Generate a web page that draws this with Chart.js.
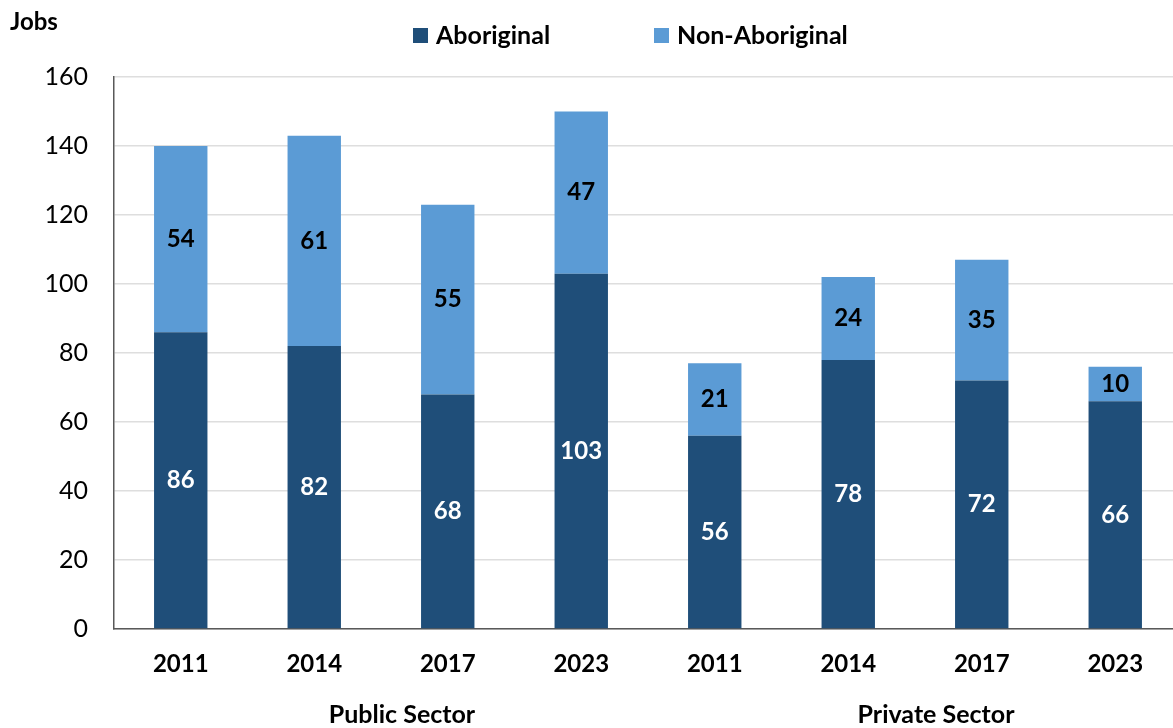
<!DOCTYPE html>
<html>
<head>
<meta charset="utf-8">
<script src="https://cdn.jsdelivr.net/npm/chart.js@4.4.0/dist/chart.umd.min.js"></script>
<style>
  body { margin: 0; overflow: hidden; background: #fff; }
</style>
</head>
<body>
<canvas id="jobsChart" width="1182" height="728"></canvas>
<script>
const years = ["2011", "2014", "2017", "2023", "2011", "2014", "2017", "2023"];
const sectors = ["Public Sector", "Private Sector"];
const aboriginal = [86, 82, 68, 103, 56, 78, 72, 66];
const nonAboriginal = [54, 61, 55, 47, 21, 24, 35, 10];
const yTicks = [0, 20, 40, 60, 80, 100, 120, 140, 160];

const FONT = "Lato, 'Open Sans', sans-serif";
const DARK = "#1f4e79";
const LIGHT = "#5b9bd5";

// values printed in the middle of each stacked segment
const barLabels = {
  id: "barLabels",
  afterDatasetsDraw(chart) {
    const ctx = chart.ctx;
    ctx.save();
    ctx.font = "bold 24px " + FONT;
    ctx.textAlign = "center";
    ctx.textBaseline = "middle";
    chart.data.datasets.forEach((ds, i) => {
      chart.getDatasetMeta(i).data.forEach((bar, j) => {
        const mid = (bar.y + bar.base) / 2;
        ctx.fillStyle = i === 0 ? "#ffffff" : "#000000";
        ctx.fillText(ds.data[j], bar.x, mid);
      });
    });
    ctx.restore();
  }
};

// axis title, legend and sector names
const extras = {
  id: "extras",
  afterDraw(chart) {
    const ctx = chart.ctx;
    const x = chart.scales.x;
    ctx.save();
    ctx.fillStyle = "#000";
    ctx.textBaseline = "middle";

    ctx.font = "bold 24px " + FONT;
    ctx.textAlign = "left";
    ctx.fillText("Jobs", 10, 22);

    ctx.font = "bold 25px " + FONT;
    const items = [
      { text: chart.data.datasets[0].label, color: DARK, x: 413 },
      { text: chart.data.datasets[1].label, color: LIGHT, x: 654 }
    ];
    items.forEach(it => {
      ctx.fillStyle = it.color;
      ctx.fillRect(it.x, 28, 15, 15);
      ctx.fillStyle = "#000";
      ctx.fillText(it.text, it.x + 23, 36);
    });

    ctx.font = "bold 25px " + FONT;
    ctx.textAlign = "center";
    sectors.forEach((name, g) => {
      const first = x.getPixelForValue(g * 4);
      const last = x.getPixelForValue(g * 4 + 3);
      ctx.fillText(name, (first + last) / 2 + 21, 715);
    });
    ctx.restore();
  }
};

new Chart(document.getElementById("jobsChart"), {
  type: "bar",
  data: {
    labels: years,
    datasets: [
      {
        label: "Aboriginal",
        data: aboriginal,
        backgroundColor: DARK,
        barPercentage: 0.4,
        categoryPercentage: 1
      },
      {
        label: "Non-Aboriginal",
        data: nonAboriginal,
        backgroundColor: LIGHT,
        barPercentage: 0.4,
        categoryPercentage: 1
      }
    ]
  },
  options: {
    responsive: false,
    animation: false,
    layout: { padding: { top: 77, right: 0, left: 0, bottom: 0 } },
    plugins: {
      legend: { display: false },
      tooltip: { enabled: false }
    },
    scales: {
      x: {
        stacked: true,
        grid: { display: false, drawTicks: false },
        border: { color: "#595959", width: 1.5 },
        ticks: {
          color: "#000",
          padding: 21,
          font: { family: FONT, size: 24, weight: "bold" }
        },
        afterFit(scale) { scale.height = 99; }
      },
      y: {
        stacked: true,
        min: 0,
        max: 160,
        afterBuildTicks(scale) { scale.ticks = yTicks.map(v => ({ value: v })); },
        grid: { color: "#dedede", lineWidth: 1.5, drawTicks: false },
        border: { color: "#595959", width: 1.5 },
        ticks: {
          color: "#000",
          padding: 26,
          font: { family: FONT, size: 25 }
        },
        afterFit(scale) { scale.width = 114; }
      }
    }
  },
  plugins: [barLabels, extras]
});
</script>
</body>
</html>
